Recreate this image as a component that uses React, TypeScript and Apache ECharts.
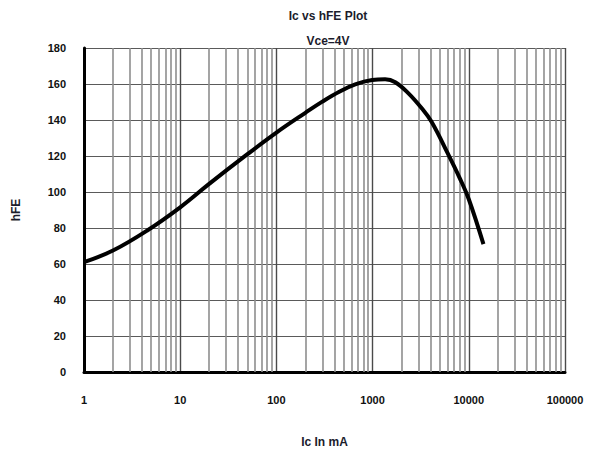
import React, { useEffect, useRef } from "react";
import * as echarts from "echarts";

const icValues = [1, 2, 4.5, 10, 20, 50, 100, 200, 300, 450, 660, 990, 1350, 1720, 2360, 3240, 4100, 6100, 8000, 10000, 14200];
const hfeValues = [61, 67.5, 78.5, 91.5, 104.5, 121, 133, 144, 150.2, 155.7, 159.8, 162.2, 162.6, 161, 154.8, 146.5, 139, 121, 108, 96, 71];
const decades = [1, 10, 100, 1000, 10000];
const minorSteps = [2, 3, 4, 5, 6, 7, 8, 9];
const yTicks = { min: 0, max: 180, interval: 20 };
const titleText = "Ic vs hFE Plot";
const subText = "Vce=4V";
const xName = "Ic In mA";
const yName = "hFE";

export default function App() {
  const ref = useRef<HTMLDivElement>(null);
  useEffect(() => {
    if (!ref.current) return;
    const chart = echarts.init(ref.current, null, { renderer: "svg" });
    const minorLines: any[] = [];
    decades.forEach((d) => minorSteps.forEach((m) => minorLines.push({ xAxis: d * m })));
    const font = "Liberation Sans";
    const txt = { fontFamily: font, fontWeight: "bold", color: "#1c1c2c" };
    chart.setOption({
      animation: false,
      backgroundColor: "#fff",
      title: [
        { text: titleText, left: 323, top: 5, textAlign: "center", textStyle: { ...txt, fontSize: 12 } },
        { text: subText, left: 323, top: 30, textAlign: "center", textStyle: { ...txt, fontSize: 12 } },
      ],
      grid: { left: 84, right: 26, top: 48, bottom: 81 },
      xAxis: {
        type: "log",
        logBase: 10,
        min: 1,
        max: 100000,
        name: xName,
        nameLocation: "middle",
        nameGap: 64,
        nameTextStyle: { ...txt, fontSize: 12 },
        axisLine: { show: true, lineStyle: { color: "#000", width: 3 } },
        axisTick: { show: false },
        axisLabel: { margin: 22, ...txt, color: "#111", fontSize: 11, formatter: (v: number) => String(Math.round(v)) },
        splitLine: { show: true, lineStyle: { color: "#4a4a4a", width: 1.4 } },
      },
      yAxis: {
        type: "value",
        min: yTicks.min,
        max: yTicks.max,
        interval: yTicks.interval,
        name: yName,
        nameLocation: "middle",
        nameGap: 62,
        nameTextStyle: { ...txt, fontSize: 12 },
        axisLine: { show: true, lineStyle: { color: "#000", width: 3 } },
        axisTick: { show: false },
        axisLabel: { margin: 18, ...txt, color: "#111", fontSize: 11 },
        splitLine: { show: true, lineStyle: { color: "#5a5a5a", width: 1.2 } },
      },
      series: [
        {
          type: "line",
          data: icValues.map((x, i) => [x, hfeValues[i]]),
          smooth: 0.4,
          showSymbol: false,
          lineStyle: { color: "#000", width: 4 },
          z: 5,
          markLine: {
            silent: true,
            symbol: "none",
            label: { show: false },
            lineStyle: { color: "#8e8e8e", width: 1.6, type: "solid" },
            data: minorLines,
            z: 1,
          },
        },
      ],
    });
    return () => chart.dispose();
  }, []);
  return <div ref={ref} style={{ position: "fixed", left: 0, top: 0, width: 591, height: 453 }} />;
}
